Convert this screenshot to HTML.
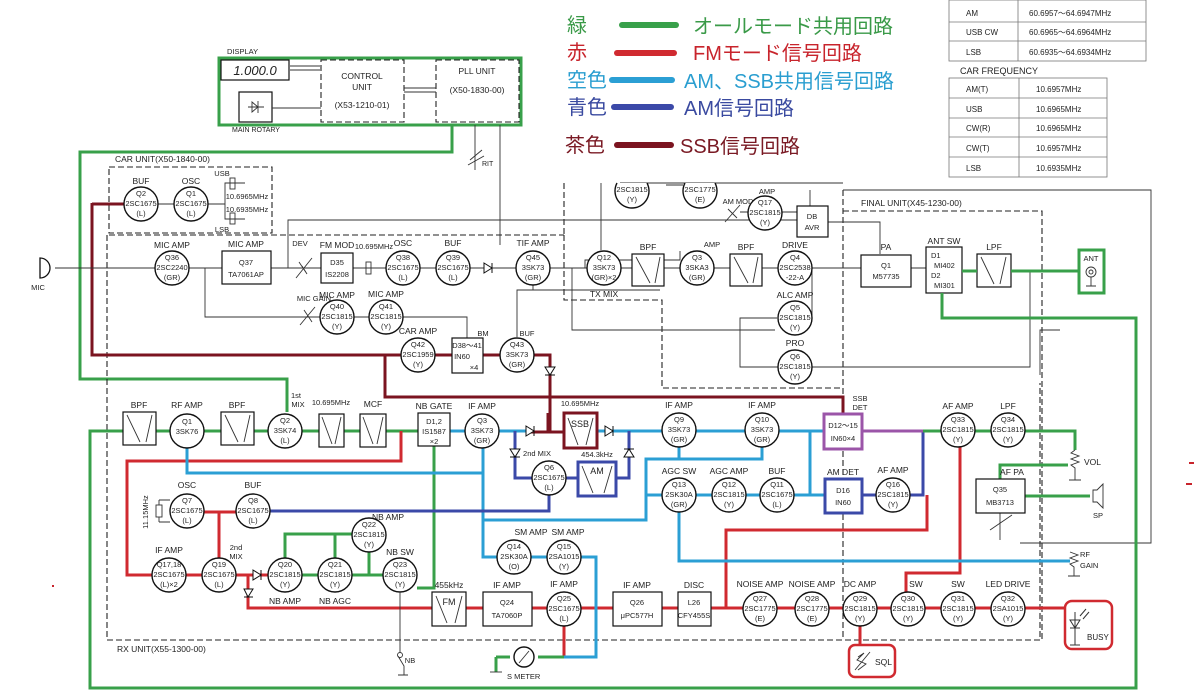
<!DOCTYPE html>
<html><head><meta charset="utf-8"><style>
html,body{margin:0;padding:0;background:#fff;}
svg{display:block;}
text{font-family:"Liberation Sans","Noto Sans CJK JP",sans-serif;fill:#222;}
.s{font-size:7.5px;text-anchor:middle;}
.l{font-size:8.5px;text-anchor:middle;}
.c{fill:#fff;stroke:#111;stroke-width:1.4;}
.b{fill:#fff;stroke:#111;stroke-width:1.2;}
.w{fill:none;stroke:#333;stroke-width:0.9;}
.d{fill:none;stroke:#222;stroke-width:1.1;stroke-dasharray:6,3;}
.G{fill:none;stroke:#38a04a;stroke-width:3;}
.R{fill:none;stroke:#d02a30;stroke-width:3;}
.K{fill:none;stroke:#2b9fd4;stroke-width:3;}
.B{fill:none;stroke:#3b49a8;stroke-width:3;}
.N{fill:none;stroke:#7b1420;stroke-width:3;}
.P{fill:none;stroke:#9b55a8;stroke-width:3;}
.lg{font-size:20px;}
</style></head><body>
<svg width="1200" height="698" viewBox="0 0 1200 698" xmlns="http://www.w3.org/2000/svg">
<!-- Legend -->
<text x="567" y="32" class="lg" style="fill:#3a9a48">緑</text>
<line x1="622" y1="25" x2="676" y2="25" stroke="#38a04a" stroke-width="6" stroke-linecap="round"/>
<text x="693" y="33" class="lg" style="fill:#3a9a48">オールモード共用回路</text>
<text x="567" y="59" class="lg" style="fill:#c8242c">赤</text>
<line x1="617" y1="53" x2="674" y2="53" stroke="#d02a30" stroke-width="6" stroke-linecap="round"/>
<text x="693" y="60" class="lg" style="fill:#c8242c">FMモード信号回路</text>
<text x="567" y="87" class="lg" style="fill:#2a9ed0">空色</text>
<line x1="612" y1="80" x2="672" y2="80" stroke="#2b9fd4" stroke-width="6" stroke-linecap="round"/>
<text x="684" y="88" class="lg" style="fill:#2a9ed0">AM、SSB共用信号回路</text>
<text x="567" y="114" class="lg" style="fill:#3a4aa0">青色</text>
<line x1="614" y1="107" x2="671" y2="107" stroke="#3b49a8" stroke-width="6" stroke-linecap="round"/>
<text x="684" y="115" class="lg" style="fill:#3a4aa0">AM信号回路</text>
<text x="565" y="152" class="lg" style="fill:#7a1a24">茶色</text>
<line x1="617" y1="145" x2="671" y2="145" stroke="#7b1420" stroke-width="6" stroke-linecap="round"/>
<text x="680" y="153" class="lg" style="fill:#7a1a24">SSB信号回路</text>

<!-- Tables -->
<g stroke="#777" stroke-width="0.8" fill="none">
<rect x="949" y="0" width="197" height="61"/>
<line x1="949" y1="22" x2="1146" y2="22"/><line x1="949" y1="41" x2="1146" y2="41"/>
<line x1="1018" y1="0" x2="1018" y2="61"/>
<rect x="949" y="78" width="158" height="99"/>
<line x1="949" y1="98" x2="1107" y2="98"/><line x1="949" y1="118" x2="1107" y2="118"/>
<line x1="949" y1="137" x2="1107" y2="137"/><line x1="949" y1="157" x2="1107" y2="157"/>
<line x1="1019" y1="78" x2="1019" y2="177"/>
</g>
<g style="font-size:8px;">
<text x="966" y="16">AM</text><text x="1029" y="16">60.6957～64.6947MHz</text>
<text x="966" y="35">USB CW</text><text x="1029" y="35">60.6965～64.6964MHz</text>
<text x="966" y="55">LSB</text><text x="1029" y="55">60.6935～64.6934MHz</text>
<text x="960" y="74" style="font-size:9px;">CAR FREQUENCY</text>
<text x="966" y="92">AM(T)</text><text x="1036" y="92">10.6957MHz</text>
<text x="966" y="112">USB</text><text x="1036" y="112">10.6965MHz</text>
<text x="966" y="131">CW(R)</text><text x="1036" y="131">10.6965MHz</text>
<text x="966" y="151">CW(T)</text><text x="1036" y="151">10.6957MHz</text>
<text x="966" y="171">LSB</text><text x="1036" y="171">10.6935MHz</text>
</g>

<!-- Display / control -->
<text x="227" y="54" style="font-size:7.5px">DISPLAY</text>
<path class="G" d="M219,58 H521 V125 H219 Z"/>
<path class="G" d="M452,125 V152 H80 V379 H287 V412"/>
<rect x="221" y="60" width="68" height="20" class="b"/>
<text x="255" y="75" style="font-size:13px;font-style:italic;text-anchor:middle">1.000.0</text>
<rect x="321" y="60" width="83" height="62" class="d" fill="#fff"/>
<rect x="436" y="60" width="83" height="62" class="d" fill="#fff"/>
<text x="362" y="79" class="l">CONTROL</text><text x="362" y="90" class="l">UNIT</text>
<text x="362" y="108" class="l">(X53-1210-01)</text>
<text x="477" y="74" class="l">PLL UNIT</text><text x="477" y="93" class="l">(X50-1830-00)</text>
<path class="w" d="M290,70 H320 M290,66 H320 M404,88 H436 M404,92 H436"/>
<rect x="239" y="92" width="33" height="30" class="b"/>
<path class="w" d="M248,107 H264 M258,101 V113 M258,107 L252,102 V112 Z"/>
<path class="w" d="M272,108 H321"/>
<text x="232" y="132" style="font-size:7px">MAIN ROTARY</text>
<path class="w" d="M475,125 V170 M500,125 V245"/>
<path class="w" d="M470,160 L482,150 M468,165 L484,156"/>
<text x="482" y="166" style="font-size:7px">RIT</text>

<!-- dashed unit boxes -->
<text x="115" y="162" class="l" style="text-anchor:start">CAR UNIT(X50-1840-00)</text>
<rect x="109" y="167" width="163" height="66" class="d"/>
<path class="d" d="M109,235 H564 M107,235 V640 H1040 V383 M564,183 V235 M564,235 V300 H662 V388 H843 M843,190 V640 M843,211 H1042 V640"/>
<text x="861" y="206" class="l" style="text-anchor:start">FINAL UNIT(X45-1230-00)</text>
<path class="w" d="M843,190 H1151 V543 H1040 M1148,543 H1020"/>
<text x="117" y="652" class="l" style="text-anchor:start">RX UNIT(X55-1300-00)</text>

<!-- CAR unit -->
<path class="N" d="M92,204 H124 M92,203 V355 H401"/>
<path class="N" d="M385,355 V397 H843 V413"/>
<path class="w" d="M158,204 H174 M208,204 H225 V183 H245 M225,204 V219 H245"/>
<g class="w"><rect x="230" y="178" width="5" height="11"/><rect x="230" y="213" width="5" height="11"/></g>
<text x="141" y="184" class="l">BUF</text><text x="191" y="184" class="l">OSC</text>
<text x="222" y="176" class="s">USB</text><text x="247" y="199" class="s">10.6965MHz</text>
<text x="247" y="212" class="s">10.6935MHz</text><text x="222" y="232" class="s">LSB</text>
<circle cx="141" cy="204" r="17" class="c"/><text x="141" y="196" class="s">Q2</text><text x="141" y="206" class="s">2SC1675</text><text x="141" y="216" class="s">(L)</text>
<circle cx="191" cy="204" r="17" class="c"/><text x="191" y="196" class="s">Q1</text><text x="191" y="206" class="s">2SC1675</text><text x="191" y="216" class="s">(L)</text>

<!-- TX chain wires -->
<path class="w" d="M55,268 H155 M189,268 H222 M271,268 H321 M353,268 H386 M420,268 H436 M470,268 H516 M550,268 H587 M621,268 H632 M664,268 H680 M714,268 H730 M762,268 H778 M812,268 H861 M911,268 H926 M962,270 H977 M1011,270 H1079"/>
<path class="w" d="M288,268 V220 H810 V190 M205,268 V317 H320 M354,317 H369 M403,317 H467 V338 M572,268 V330 H775 M812,268 V318 H812 M777,318 H740 V367 H778 M812,367 H1030 V270 M1040,375 V330 H1060 M585,268 V260 H680 V251 M620,183 H843 M601,183 V250"/>
<path class="w" d="M666,185 H683 M718,183 V183 M782,212 H797 M828,222 H880 V254 M740,212 H748 M517,337 V290 H533 V285 M533,290 H660 M550,371 V397"/>
<path class="w" d="M452,354 H435 M483,354 H500"/>
<text x="172" y="248" class="l">MIC AMP</text>
<circle cx="172" cy="268" r="17" class="c"/><text x="172" y="260" class="s">Q36</text><text x="172" y="270" class="s">2SC2240</text><text x="172" y="280" class="s">(GR)</text>
<text x="246" y="247" class="l">MIC AMP</text>
<rect x="222" y="251" width="49" height="33" class="b"/><text x="246" y="265" class="s">Q37</text><text x="246" y="277" class="s">TA7061AP</text>
<text x="300" y="246" class="s">DEV</text>
<path class="w" d="M296,278 L312,258 M299,262 L307,274 L302,266"/>
<text x="337" y="248" class="l">FM MOD</text>
<rect x="321" y="253" width="32" height="30" class="b"/><text x="337" y="265" class="s">D35</text><text x="337" y="277" class="s">IS2208</text>
<text x="374" y="249" class="s">10.695MHz</text>
<rect x="366" y="262" width="5" height="12" class="w"/>
<text x="403" y="246" class="l">OSC</text>
<circle cx="403" cy="268" r="17" class="c"/><text x="403" y="260" class="s">Q38</text><text x="403" y="270" class="s">2SC1675</text><text x="403" y="280" class="s">(L)</text>
<text x="453" y="246" class="l">BUF</text>
<circle cx="453" cy="268" r="17" class="c"/><text x="453" y="260" class="s">Q39</text><text x="453" y="270" class="s">2SC1675</text><text x="453" y="280" class="s">(L)</text>
<path d="M484,263 L492,268 L484,273 Z M492,263 V273" fill="#fff" stroke="#111"/>
<text x="533" y="246" class="l">TIF AMP</text>
<circle cx="533" cy="268" r="17" class="c"/><text x="533" y="260" class="s">Q45</text><text x="533" y="270" class="s">3SK73</text><text x="533" y="280" class="s">(GR)</text>
<circle cx="604" cy="268" r="17" class="c"/><text x="604" y="260" class="s">Q12</text><text x="604" y="270" class="s">3SK73</text><text x="604" y="280" class="s">(GR)×2</text>
<text x="604" y="297" class="l">TX MIX</text>
<text x="648" y="250" class="l">BPF</text>
<rect x="632" y="254" width="32" height="32" class="b"/><path class="w" d="M636,257 L650,283 M660,257 L655,283"/>
<text x="712" y="247" class="s">AMP</text>
<circle cx="697" cy="268" r="17" class="c"/><text x="697" y="260" class="s">Q3</text><text x="697" y="270" class="s">3SKA3</text><text x="697" y="280" class="s">(GR)</text>
<text x="746" y="250" class="l">BPF</text>
<rect x="730" y="254" width="32" height="32" class="b"/><path class="w" d="M734,257 L748,283 M758,257 L753,283"/>
<text x="795" y="248" class="l">DRIVE</text>
<circle cx="795" cy="268" r="17" class="c"/><text x="795" y="260" class="s">Q4</text><text x="795" y="270" class="s">2SC2538</text><text x="795" y="280" class="s">-22-A</text>
<text x="795" y="298" class="l">ALC AMP</text>
<circle cx="795" cy="318" r="17" class="c"/><text x="795" y="310" class="s">Q5</text><text x="795" y="320" class="s">2SC1815</text><text x="795" y="330" class="s">(Y)</text>
<text x="795" y="346" class="l">PRO</text>
<circle cx="795" cy="367" r="17" class="c"/><text x="795" y="359" class="s">Q6</text><text x="795" y="369" class="s">2SC1815</text><text x="795" y="379" class="s">(Y)</text>
<path class="c" d="M617,183 A17,17 0 1 0 647,183"/><text x="632" y="192" class="s">2SC1815</text><text x="632" y="202" class="s">(Y)</text>
<path class="c" d="M685,183 A17,17 0 1 0 715,183"/><text x="700" y="192" class="s">2SC1775</text><text x="700" y="202" class="s">(E)</text>
<text x="738" y="204" class="s">AM MOD</text><text x="767" y="194" class="s">AMP</text>
<path class="w" d="M725,222 L740,205 M728,209 L737,218"/>
<circle cx="765" cy="213" r="17" class="c"/><text x="765" y="205" class="s">Q17</text><text x="765" y="215" class="s">2SC1815</text><text x="765" y="225" class="s">(Y)</text>
<rect x="797" y="206" width="31" height="31" class="b"/><text x="812" y="219" class="s">DB</text><text x="812" y="230" class="s">AVR</text>
<text x="886" y="250" class="l">PA</text>
<rect x="861" y="255" width="50" height="32" class="b"/><text x="886" y="268" class="s">Q1</text><text x="886" y="279" class="s">M57735</text>
<text x="944" y="244" class="l">ANT SW</text>
<rect x="926" y="247" width="36" height="46" class="b"/><text x="931" y="258" class="s" style="text-anchor:start">D1</text><text x="934" y="268" class="s" style="text-anchor:start">MI402</text><text x="931" y="278" class="s" style="text-anchor:start">D2</text><text x="934" y="288" class="s" style="text-anchor:start">MI301</text>
<text x="994" y="250" class="l">LPF</text>
<rect x="977" y="254" width="34" height="33" class="b"/><path class="w" d="M981,257 L994,284 M1006,257 L1000,284"/>
<path class="G" d="M962,271 H977 M1011,271 H1079 M942,293 V318 H1136 V688 H90 V431 H123"/>
<rect x="1079" y="250" width="25" height="43" fill="#fff" stroke="#38a04a" stroke-width="3"/>
<text x="1091" y="261" class="s">ANT</text><circle cx="1091" cy="272" r="5" class="w"/><circle cx="1091" cy="272" r="2" class="w"/>
<path class="w" d="M1091,277 V286 M1086,286 H1096"/>
<!-- MIC -->
<path d="M40,258 A10,10 0 0 1 40,278 Z" fill="#fff" stroke="#111" stroke-width="1.3"/>
<text x="38" y="290" class="s">MIC</text>
<text x="314" y="301" class="s">MIC GAIN</text>
<path class="w" d="M300,325 L315,307 M304,310 L312,322"/>
<text x="337" y="298" class="l">MIC AMP</text>
<circle cx="337" cy="317" r="17" class="c"/><text x="337" y="309" class="s">Q40</text><text x="337" y="319" class="s">2SC1815</text><text x="337" y="329" class="s">(Y)</text>
<text x="386" y="297" class="l">MIC AMP</text>
<circle cx="386" cy="317" r="17" class="c"/><text x="386" y="309" class="s">Q41</text><text x="386" y="319" class="s">2SC1815</text><text x="386" y="329" class="s">(Y)</text>
<text x="418" y="334" class="l">CAR AMP</text>
<path class="N" d="M435,355 H452 M483,355 H500 M534,355 H550 V432 H564"/>
<circle cx="418" cy="355" r="17" class="c"/><text x="418" y="347" class="s">Q42</text><text x="418" y="357" class="s">2SC1959</text><text x="418" y="367" class="s">(Y)</text>
<rect x="452" y="338" width="31" height="35" class="b"/><text x="467" y="348" class="s">D38～41</text><text x="462" y="359" class="s">IN60</text><text x="474" y="370" class="s">×4</text>
<text x="483" y="336" class="s">BM</text><text x="527" y="336" class="s">BUF</text>
<circle cx="517" cy="355" r="17" class="c"/><text x="517" y="347" class="s">Q43</text><text x="517" y="357" class="s">3SK73</text><text x="517" y="367" class="s">(GR)</text>
<path d="M545,367 L555,367 L550,375 Z M545,375 H555" fill="#fff" stroke="#111"/>

<!-- RX colored wires -->
<path class="G" d="M156,431 H170 M204,431 H221 M254,431 H268 M302,431 H319 M344,431 H360 M386,431 H418"/>
<path class="G" d="M434,446 V588 H417 M302,575 H318 M352,575 H383 M285,558 V534 H352 M335,534 V558 M369,552 V575"/>
<path class="R" d="M401,431 V461 H127 V575 H152 M186,575 H202 M236,575 H268 M248,575 V608 H432 M466,608 H483 M532,608 H547 M581,608 H613 M662,608 H678 M711,608 H743 M777,608 H795 M829,608 H843 M877,608 H891 M925,608 H941 M975,608 H991 M1025,608 H1065"/>
<path class="R" d="M170,512 H236 M219,512 V558 M564,626 V657 M726,608 V530 H927 V495 M960,447 V573 H906 V592 M860,626 V645"/>
<path class="K" d="M450,431 H465 M499,431 H526 M597,431 H662 M696,431 H745 M779,431 H824"/>
<path class="K" d="M187,448 V473 H483 M483,447 V557 H497 M531,557 H547 M581,557 H596 V657 H564 M483,520 H646 V459 H762 V447 M679,447 V459 M646,495 H662 M696,495 H712 M746,495 H760 M794,495 H825 M810,431 V495 M679,512 V561 H1070"/>
<path class="B" d="M515,431 V478 H532 M566,478 H578 M616,478 H629 V431 M270,511 H549 V495 M862,495 H876 M910,495 H923 V431"/>
<path class="P" d="M862,431 H923"/>
<path class="G" d="M923,431 H941 M975,431 H991 M1025,431 H1075 V450 M1068,465 H1000 V479 M1025,496 H1090 M496,657 H510 M538,657 H564 M496,657 V672"/>
<path class="N" d="M548,413 V432 H530"/>
<!-- RX blocks -->
<text x="139" y="408" class="l">BPF</text>
<rect x="123" y="412" width="33" height="33" class="b"/><path class="w" d="M127,415 L140,442 M152,415 L146,442"/>
<text x="187" y="408" class="l">RF AMP</text>
<circle cx="187" cy="431" r="17" class="c"/><text x="187" y="424" class="s">Q1</text><text x="187" y="434" class="s">3SK76</text>
<text x="237" y="408" class="l">BPF</text>
<rect x="221" y="412" width="33" height="33" class="b"/><path class="w" d="M225,415 L238,442 M250,415 L244,442"/>
<text x="296" y="398" class="s">1st</text><text x="298" y="407" class="s">MIX</text>
<circle cx="285" cy="431" r="17" class="c"/><text x="285" y="423" class="s">Q2</text><text x="285" y="433" class="s">3SK74</text><text x="285" y="443" class="s">(L)</text>
<text x="331" y="405" class="s">10.695MHz</text>
<rect x="319" y="414" width="25" height="33" class="b"/><path class="w" d="M322,417 L332,444 M341,417 L335,444"/>
<text x="373" y="407" class="l">MCF</text>
<rect x="360" y="414" width="26" height="33" class="b"/><path class="w" d="M363,417 L373,444 M383,417 L377,444"/>
<text x="434" y="409" class="l">NB GATE</text>
<rect x="418" y="413" width="32" height="33" class="b"/><text x="434" y="424" class="s">D1,2</text><text x="434" y="434" class="s">IS1587</text><text x="434" y="444" class="s">×2</text>
<text x="482" y="409" class="l">IF AMP</text>
<circle cx="482" cy="431" r="17" class="c"/><text x="482" y="423" class="s">Q3</text><text x="482" y="433" class="s">3SK73</text><text x="482" y="443" class="s">(GR)</text>
<path d="M526,426 L534,431 L526,436 Z M534,426 V436" fill="#fff" stroke="#111"/>
<path d="M605,426 L613,431 L605,436 Z M613,426 V436" fill="#fff" stroke="#111"/>
<path d="M510,449 L520,449 L515,457 Z M510,457 H520" fill="#fff" stroke="#111"/>
<path d="M624,457 L634,457 L629,449 Z M624,449 H634" fill="#fff" stroke="#111"/>
<text x="580" y="406" class="s">10.695MHz</text>
<rect x="564" y="413" width="33" height="35" fill="#fff" stroke="#7b1420" stroke-width="3"/>
<text x="580" y="427" class="s" style="font-size:9px">SSB</text><path class="w" d="M568,418 L578,445 M593,418 L586,445"/>
<text x="537" y="456" class="s">2nd MIX</text><text x="597" y="457" class="s">454.3kHz</text>
<circle cx="549" cy="478" r="17" class="c"/><text x="549" y="470" class="s">Q6</text><text x="549" y="480" class="s">2SC1675</text><text x="549" y="490" class="s">(L)</text>
<rect x="578" y="462" width="38" height="34" fill="#fff" stroke="#3b49a8" stroke-width="3"/>
<text x="597" y="474" class="s" style="font-size:9px">AM</text><path class="w" d="M582,466 L593,493 M612,466 L604,493"/>
<text x="679" y="408" class="l">IF AMP</text>
<circle cx="679" cy="430" r="17" class="c"/><text x="679" y="422" class="s">Q9</text><text x="679" y="432" class="s">3SK73</text><text x="679" y="442" class="s">(GR)</text>
<text x="762" y="408" class="l">IF AMP</text>
<circle cx="762" cy="430" r="17" class="c"/><text x="762" y="422" class="s">Q10</text><text x="762" y="432" class="s">3SK73</text><text x="762" y="442" class="s">(GR)</text>
<text x="860" y="401" class="s">SSB</text><text x="860" y="410" class="s">DET</text>
<rect x="824" y="414" width="38" height="35" fill="#fff" stroke="#9b55a8" stroke-width="3"/>
<text x="843" y="428" class="s">D12～15</text><text x="843" y="441" class="s">IN60×4</text>
<text x="679" y="474" class="l">AGC SW</text>
<circle cx="679" cy="495" r="17" class="c"/><text x="679" y="487" class="s">Q13</text><text x="679" y="497" class="s">2SK30A</text><text x="679" y="507" class="s">(GR)</text>
<text x="729" y="474" class="l">AGC AMP</text>
<circle cx="729" cy="495" r="17" class="c"/><text x="729" y="487" class="s">Q12</text><text x="729" y="497" class="s">2SC1815</text><text x="729" y="507" class="s">(Y)</text>
<text x="777" y="474" class="l">BUF</text>
<circle cx="777" cy="495" r="17" class="c"/><text x="777" y="487" class="s">Q11</text><text x="777" y="497" class="s">2SC1675</text><text x="777" y="507" class="s">(L)</text>
<text x="843" y="475" class="l">AM DET</text>
<rect x="825" y="479" width="37" height="34" fill="#fff" stroke="#3b49a8" stroke-width="3"/>
<text x="843" y="493" class="s">D16</text><text x="843" y="505" class="s">IN60</text>
<text x="893" y="473" class="l">AF AMP</text>
<circle cx="893" cy="495" r="17" class="c"/><text x="893" y="487" class="s">Q16</text><text x="893" y="497" class="s">2SC1815</text><text x="893" y="507" class="s">(Y)</text>
<text x="958" y="409" class="l">AF AMP</text>
<circle cx="958" cy="430" r="17" class="c"/><text x="958" y="422" class="s">Q33</text><text x="958" y="432" class="s">2SC1815</text><text x="958" y="442" class="s">(Y)</text>
<text x="1008" y="409" class="l">LPF</text>
<circle cx="1008" cy="430" r="17" class="c"/><text x="1008" y="422" class="s">Q34</text><text x="1008" y="432" class="s">2SC1815</text><text x="1008" y="442" class="s">(Y)</text>
<path class="w" d="M1075,450 L1071,453 L1079,456 L1071,459 L1079,462 L1071,465 L1075,468 V480 M1069,480 H1081 M1070,552 L1078,555 L1070,558 L1078,561 L1070,564 L1074,567 V576 M1068,576 H1080 M1000,513 V540"/>
<text x="1084" y="465" class="l" style="text-anchor:start">VOL</text>
<text x="1012" y="475" class="l">AF PA</text>
<rect x="976" y="479" width="49" height="34" class="b"/><text x="1000" y="492" class="s">Q35</text><text x="1000" y="505" class="s">MB3713</text>
<path class="w" d="M990,530 L1012,515 M1093,490 V502 H1097 L1103,508 V484 L1097,490 Z"/>
<text x="1098" y="518" class="s">SP</text>
<text x="1080" y="557" class="s" style="text-anchor:start">RF</text><text x="1080" y="568" class="s" style="text-anchor:start">GAIN</text>
<text x="187" y="488" class="l">OSC</text>
<rect x="156" y="505" width="6" height="12" class="w"/><path class="w" d="M159,500 H170 M159,522 H170 M159,500 V505 M159,517 V522"/>
<text x="148" y="512" class="s" transform="rotate(-90 148 512)">11.15MHz</text>
<circle cx="187" cy="511" r="17" class="c"/><text x="187" y="503" class="s">Q7</text><text x="187" y="513" class="s">2SC1675</text><text x="187" y="523" class="s">(L)</text>
<text x="253" y="488" class="l">BUF</text>
<circle cx="253" cy="511" r="17" class="c"/><text x="253" y="503" class="s">Q8</text><text x="253" y="513" class="s">2SC1675</text><text x="253" y="523" class="s">(L)</text>
<text x="236" y="550" class="s">2nd</text><text x="236" y="559" class="s">MIX</text>
<text x="388" y="520" class="l">NB AMP</text>
<circle cx="369" cy="535" r="17" class="c"/><text x="369" y="527" class="s">Q22</text><text x="369" y="537" class="s">2SC1815</text><text x="369" y="547" class="s">(Y)</text>
<text x="169" y="553" class="l">IF AMP</text>
<circle cx="169" cy="575" r="17" class="c"/><text x="169" y="567" class="s">Q17,18</text><text x="169" y="577" class="s">2SC1675</text><text x="169" y="587" class="s">(L)×2</text>
<circle cx="219" cy="575" r="17" class="c"/><text x="219" y="567" class="s">Q19</text><text x="219" y="577" class="s">2SC1675</text><text x="219" y="587" class="s">(L)</text>
<path d="M253,570 L261,575 L253,580 Z M261,570 V580 M244,589 H253 L248,597 Z M244,597 H253" fill="#fff" stroke="#111"/>
<circle cx="285" cy="575" r="17" class="c"/><text x="285" y="567" class="s">Q20</text><text x="285" y="577" class="s">2SC1815</text><text x="285" y="587" class="s">(Y)</text>
<circle cx="335" cy="575" r="17" class="c"/><text x="335" y="567" class="s">Q21</text><text x="335" y="577" class="s">2SC1815</text><text x="335" y="587" class="s">(Y)</text>
<text x="400" y="555" class="l">NB SW</text>
<circle cx="400" cy="575" r="17" class="c"/><text x="400" y="567" class="s">Q23</text><text x="400" y="577" class="s">2SC1815</text><text x="400" y="587" class="s">(Y)</text>
<text x="285" y="604" class="l">NB AMP</text><text x="335" y="604" class="l">NB AGC</text>
<path class="w" d="M400,592 V652 M398,656 L404,666 V675 M398,675 H408"/>
<circle cx="400" cy="655" r="2.5" class="w"/>
<text x="410" y="663" class="s">NB</text>
<text x="449" y="588" class="l">455kHz</text>
<rect x="432" y="592" width="34" height="34" class="b"/><text x="449" y="605" class="s" style="font-size:9px">FM</text><path class="w" d="M436,596 L447,623 M462,596 L455,623"/>
<text x="507" y="588" class="l">IF AMP</text>
<rect x="483" y="592" width="49" height="34" class="b"/><text x="507" y="605" class="s">Q24</text><text x="507" y="618" class="s">TA7060P</text>
<text x="564" y="587" class="l">IF AMP</text>
<circle cx="564" cy="609" r="17" class="c"/><text x="564" y="601" class="s">Q25</text><text x="564" y="611" class="s">2SC1675</text><text x="564" y="621" class="s">(L)</text>
<text x="531" y="535" class="l">SM AMP</text>
<circle cx="514" cy="557" r="17" class="c"/><text x="514" y="549" class="s">Q14</text><text x="514" y="559" class="s">2SK30A</text><text x="514" y="569" class="s">(O)</text>
<text x="568" y="535" class="l">SM AMP</text>
<circle cx="564" cy="557" r="17" class="c"/><text x="564" y="549" class="s">Q15</text><text x="564" y="559" class="s">2SA1015</text><text x="564" y="569" class="s">(Y)</text>
<circle cx="524" cy="657" r="10" class="c"/><path class="w" d="M519,663 L529,651"/>
<text x="507" y="679" class="s" style="text-anchor:start">S METER</text>
<path class="w" d="M490,672 H502"/>
<text x="637" y="588" class="l">IF AMP</text>
<rect x="613" y="592" width="49" height="34" class="b"/><text x="637" y="605" class="s">Q26</text><text x="637" y="618" class="s">μPC577H</text>
<text x="694" y="588" class="l">DISC</text>
<rect x="678" y="592" width="33" height="34" class="b"/><text x="694" y="605" class="s">L26</text><text x="694" y="618" class="s">CFY455S</text>
<text x="760" y="587" class="l">NOISE AMP</text>
<circle cx="760" cy="609" r="17" class="c"/><text x="760" y="601" class="s">Q27</text><text x="760" y="611" class="s">2SC1775</text><text x="760" y="621" class="s">(E)</text>
<text x="812" y="587" class="l">NOISE AMP</text>
<circle cx="812" cy="609" r="17" class="c"/><text x="812" y="601" class="s">Q28</text><text x="812" y="611" class="s">2SC1775</text><text x="812" y="621" class="s">(E)</text>
<text x="860" y="587" class="l">DC AMP</text>
<circle cx="860" cy="609" r="17" class="c"/><text x="860" y="601" class="s">Q29</text><text x="860" y="611" class="s">2SC1815</text><text x="860" y="621" class="s">(Y)</text>
<text x="916" y="587" class="l">SW</text>
<circle cx="908" cy="609" r="17" class="c"/><text x="908" y="601" class="s">Q30</text><text x="908" y="611" class="s">2SC1815</text><text x="908" y="621" class="s">(Y)</text>
<text x="958" y="587" class="l">SW</text>
<circle cx="958" cy="609" r="17" class="c"/><text x="958" y="601" class="s">Q31</text><text x="958" y="611" class="s">2SC1815</text><text x="958" y="621" class="s">(Y)</text>
<text x="1008" y="587" class="l">LED DRIVE</text>
<circle cx="1008" cy="609" r="17" class="c"/><text x="1008" y="601" class="s">Q32</text><text x="1008" y="611" class="s">2SA1015</text><text x="1008" y="621" class="s">(Y)</text>
<rect x="849" y="645" width="46" height="32" rx="6" fill="#fff" stroke="#d02a30" stroke-width="2.5"/>
<path class="w" d="M855,670 L870,652 M858,657 L864,653 L857,660 L866,664 L858,670"/>
<text x="875" y="665" class="s" style="text-anchor:start;font-size:8.5px">SQL</text>
<rect x="1065" y="601" width="47" height="48" rx="7" fill="#fff" stroke="#d02a30" stroke-width="2.5"/>
<path d="M1070,620 H1080 L1075,628 Z M1070,628 H1080 M1075,612 V645 M1070,645 H1080 M1080,616 L1086,609 M1083,619 L1089,612" fill="none" stroke="#333"/>
<text x="1087" y="640" class="s" style="text-anchor:start;font-size:8px">BUSY</text>
<rect x="1189" y="462" width="5" height="2" fill="#c8242c"/><rect x="1186" y="483" width="6" height="2" fill="#c8242c"/>
<rect x="52" y="585" width="2" height="2" fill="#c8242c"/>
</svg>
</body></html>
